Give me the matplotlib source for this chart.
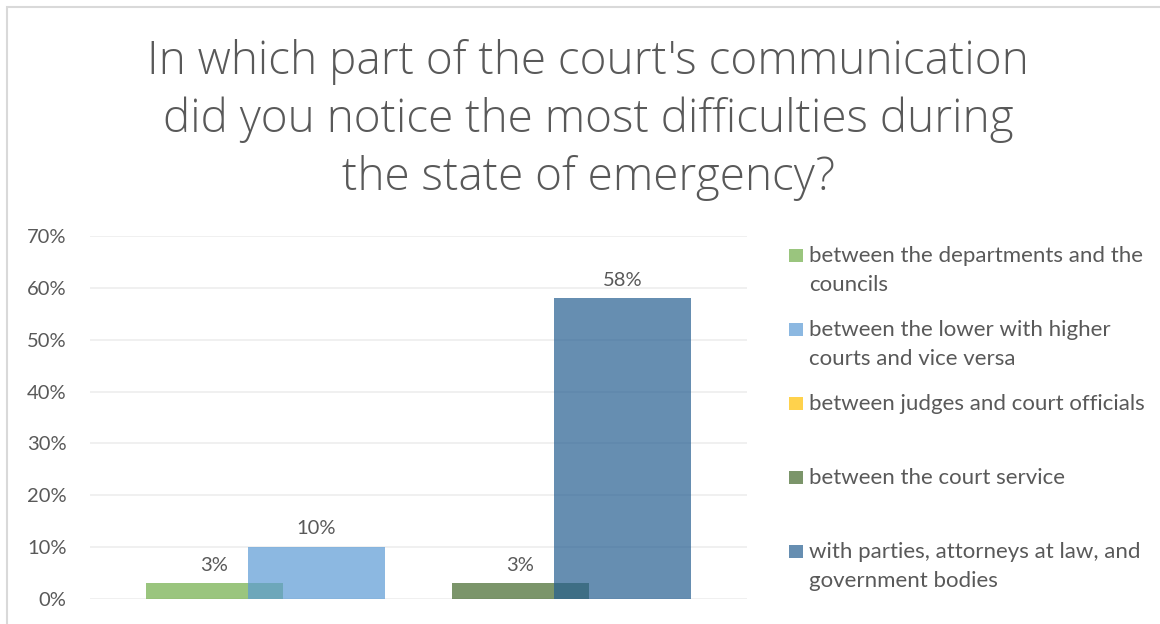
import matplotlib
matplotlib.use("Agg")
import matplotlib.pyplot as plt
from matplotlib.patches import Rectangle

# Survey answers (share of respondents)
SERIES = [
    "between the departments and the\ncouncils",
    "between the lower with higher\ncourts and vice versa",
    "between judges and court officials",
    "between the court service",
    "with parties, attorneys at law, and\ngovernment bodies",
]
VALUES = [0.03, 0.10, 0.0, 0.03, 0.58]
COLORS = ["#70AD47", "#5B9BD5", "#FFC000", "#43682B", "#255E91"]

TITLE_LINES = [
    "In which part of the court's communication",
    "did you notice the most difficulties during",
    "the state of emergency?",
]
Y_TICKS = [0.0, 0.1, 0.2, 0.3, 0.4, 0.5, 0.6, 0.7]

W, H = 1160, 624
TEXT = "#595959"
FONT = "Lato"

fig = plt.figure(figsize=(W / 100, H / 100), dpi=100)
fig.patch.set_facecolor("white")

# chart frame (right and bottom edges fall outside the canvas)
fig.add_artist(Rectangle((6.5 / W, -0.1), 1.2, 1.1 - 6.5 / H,
                         transform=fig.transFigure, fill=False,
                         edgecolor="#D9D9D9", linewidth=1.5))

ax = fig.add_axes([90 / W, 25 / H, 657 / W, 363 / H])

step = 0.1553
width = 0.2085
for i, (val, col) in enumerate(zip(VALUES, COLORS)):
    xpos = (i - 2) * step
    ax.bar(xpos, val, width=width, color=col, alpha=0.7, linewidth=0, zorder=3)
    if val > 0:
        ax.annotate(f"{val:.0%}", (xpos, val), xytext=(0, 7),
                    textcoords="offset points", ha="center", va="bottom",
                    fontsize=14.5, color=TEXT, family=FONT)

ax.set_xlim(-0.5, 0.5)
ax.set_ylim(0, 0.7)
ax.set_xticks([])
ax.set_yticks(Y_TICKS)
ax.set_yticklabels([f"{t:.0%}" for t in Y_TICKS], fontsize=14.5,
                   color=TEXT, family=FONT)
ax.tick_params(axis="y", length=0, pad=17)
ax.yaxis.grid(True, color="#EFEFEF", linewidth=1.3, zorder=0)
for s in ax.spines.values():
    s.set_visible(False)

# title, one line at a time
for k, line in enumerate(TITLE_LINES):
    fig.text(588 / W, 1 - (74 + 58 * k) / H, line, ha="center",
             va="baseline", fontsize=33, color=TEXT, family="Open Sans",
             fontweight="light")

# legend on the right
for k, (label, col) in enumerate(zip(SERIES, COLORS)):
    ytop = 249 + 74 * k
    fig.add_artist(Rectangle((789 / W, 1 - (ytop + 13) / H), 14 / W, 13 / H,
                             transform=fig.transFigure, facecolor=col,
                             alpha=0.7, linewidth=0))
    for j, part in enumerate(label.split("\n")):
        fig.text(809 / W, 1 - (ytop + 13 + 29 * j) / H, part, ha="left",
                 va="baseline", fontsize=16, color=TEXT, family=FONT)

fig.savefig("out.png", dpi=100, facecolor="white")
